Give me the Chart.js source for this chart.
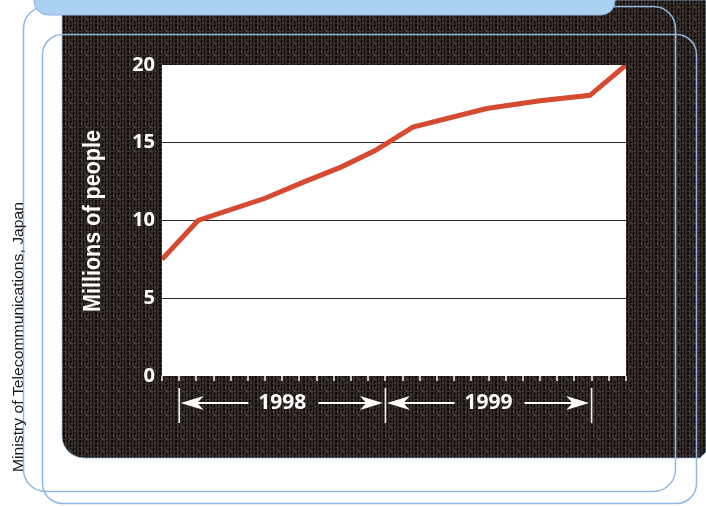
<!DOCTYPE html>
<html>
<head>
<meta charset="utf-8">
<script src="https://cdn.jsdelivr.net/npm/chart.js@4"></script>
<style>
  html, body { margin: 0; padding: 0; background: #fff; }
  canvas { display: block; }
</style>
</head>
<body>
<canvas id="chart" width="706" height="506"></canvas>
<script>
// Internet users in Japan, millions; x = months counted from December 1997
const months = [0, 2.1, 6, 8.3, 10.45, 12.4, 14.6, 18.9, 22, 24.9, 27];
const users = [7.5, 10.0, 11.43, 12.5, 13.45, 14.5, 16.0, 17.2, 17.7, 18.05, 20.0];

// Year spans along the time axis (month index of each January)
const yearLabels = ['1998', '1999'];
const yearBounds = [1, 13, 25];

const yTicks = [0, 5, 10, 15, 20];
const yTitle = 'Millions of people';
const sourceNote = 'Ministry of Telecommunications, Japan';

const LINE_RED = '#d64a31';
const OUTLINE_BLUE = '#8fb9e4';

function roundRectPath(ctx, x, y, w, h, r) {
  ctx.beginPath();
  ctx.moveTo(x + r, y);
  ctx.lineTo(x + w - r, y);
  ctx.arcTo(x + w, y, x + w, y + r, r);
  ctx.lineTo(x + w, y + h - r);
  ctx.arcTo(x + w, y + h, x + w - r, y + h, r);
  ctx.lineTo(x + r, y + h);
  ctx.arcTo(x, y + h, x, y + h - r, r);
  ctx.lineTo(x, y + r);
  ctx.arcTo(x, y, x + r, y, r);
  ctx.closePath();
}

// Grainy dark fill with vertical streaks
function darkTexture(ctx) {
  const c = document.createElement('canvas');
  c.width = 16; c.height = 12;
  const g = c.getContext('2d');
  g.fillStyle = '#3a302b';
  g.fillRect(0, 0, 16, 12);
  g.fillStyle = '#0c0a09';
  for (let x = 0; x < 16; x++) {
    for (let y = 0; y < 12; y++) {
      if ((x % 3 === 0 && y % 4 !== 3) || ((x * 7 + y * 5) % 9 === 0)) g.fillRect(x, y, 1, 1);
    }
  }
  g.fillStyle = '#4e4540';
  for (let x = 1; x < 16; x += 5) g.fillRect(x, (x * 3) % 12, 1, 2);
  return ctx.createPattern(c, 'repeat');
}

const backdrop = {
  id: 'backdrop',
  beforeDraw(chart) {
    const ctx = chart.ctx;
    const a = chart.chartArea;
    ctx.save();
    ctx.fillStyle = '#ffffff';
    ctx.fillRect(0, 0, chart.width, chart.height);

    // dark panel, rounded at the lower left
    ctx.beginPath();
    ctx.moveTo(62, 0);
    ctx.lineTo(706, 0);
    ctx.lineTo(706, 452);
    ctx.lineTo(700, 458);
    ctx.lineTo(84, 458);
    ctx.arcTo(62, 458, 62, 436, 22);
    ctx.closePath();
    ctx.fillStyle = darkTexture(ctx);
    ctx.fill();
    ctx.strokeStyle = 'rgba(150,190,230,0.7)';
    ctx.lineWidth = 1;
    ctx.stroke();

    // two thin blue rounded frames
    ctx.strokeStyle = OUTLINE_BLUE;
    ctx.lineWidth = 1.5;
    roundRectPath(ctx, 23.5, 6.5, 652, 485, 22);
    ctx.stroke();
    roundRectPath(ctx, 42.5, 34.5, 654, 469, 20);
    ctx.stroke();

    // light blue heading tab at the top
    ctx.beginPath();
    ctx.moveTo(34, -4);
    ctx.lineTo(615, -4);
    ctx.lineTo(615, 1);
    ctx.arcTo(615, 15, 601, 15, 14);
    ctx.lineTo(50, 15);
    ctx.arcTo(34, 15, 34, 1, 14);
    ctx.closePath();
    ctx.fillStyle = '#aad1f1';
    ctx.fill();
    ctx.strokeStyle = '#86b3de';
    ctx.lineWidth = 1;
    ctx.stroke();

    // white plotting field
    ctx.fillStyle = '#ffffff';
    ctx.fillRect(a.left, a.top, a.right - a.left, a.bottom - a.top);
    ctx.restore();
  }
};

function drawArrow(ctx, tipX, tailX, y) {
  const dir = Math.sign(tailX - tipX);
  ctx.beginPath();
  ctx.moveTo(tipX + dir * 14, y);
  ctx.lineTo(tailX, y);
  ctx.stroke();
  ctx.beginPath();
  ctx.moveTo(tipX, y);
  ctx.lineTo(tipX + dir * 23, y - 7);
  ctx.lineTo(tipX + dir * 16.5, y);
  ctx.lineTo(tipX + dir * 23, y + 7);
  ctx.closePath();
  ctx.fill();
}

const annotations = {
  id: 'annotations',
  afterDraw(chart) {
    const ctx = chart.ctx;
    const xs = chart.scales.x;
    ctx.save();

    // year brackets with arrows
    ctx.strokeStyle = '#f2f2f2';
    ctx.fillStyle = '#ffffff';
    ctx.lineWidth = 1.6;
    const bx = yearBounds.map(v => xs.getPixelForValue(v));
    bx.forEach(x => {
      ctx.beginPath();
      ctx.moveTo(x, 388);
      ctx.lineTo(x, 423);
      ctx.stroke();
    });
    const yArrow = 403;
    ctx.font = 'bold 21px "Open Sans", "DejaVu Sans", sans-serif';
    ctx.textAlign = 'center';
    ctx.textBaseline = 'middle';
    yearLabels.forEach((lab, i) => {
      const x0 = bx[i], x1 = bx[i + 1];
      const mid = (x0 + x1) / 2;
      const w = ctx.measureText(lab).width;
      ctx.fillStyle = '#ffffff';
      ctx.fillText(lab, mid, yArrow);
      ctx.lineWidth = 2;
      ctx.strokeStyle = '#ffffff';
      drawArrow(ctx, x0 + 1.5, mid - w / 2 - 10, yArrow);
      drawArrow(ctx, x1 - 2.5, mid + w / 2 + 12, yArrow);
    });

    // vertical axis title
    ctx.save();
    ctx.translate(99.5, 221);
    ctx.rotate(-Math.PI / 2);
    ctx.font = 'bold 23px "Liberation Sans", Arial, sans-serif';
    ctx.textAlign = 'center';
    ctx.textBaseline = 'alphabetic';
    const tw = ctx.measureText(yTitle).width;
    ctx.scale(182 / tw, 1);
    ctx.fillStyle = '#ffffff';
    ctx.fillText(yTitle, 0, 0);
    ctx.restore();

    // source note along the left margin
    ctx.save();
    ctx.translate(23, 337);
    ctx.rotate(-Math.PI / 2);
    ctx.font = '14px "Liberation Sans", Arial, sans-serif';
    ctx.textAlign = 'center';
    ctx.textBaseline = 'alphabetic';
    const sw = ctx.measureText(sourceNote).width;
    ctx.scale(270 / sw, 1);
    ctx.fillStyle = '#1a1a1a';
    ctx.fillText(sourceNote, 0, 0);
    ctx.restore();

    ctx.restore();
  }
};

new Chart(document.getElementById('chart'), {
  type: 'line',
  data: {
    datasets: [{
      data: months.map((m, i) => ({ x: m, y: users[i] })),
      borderColor: LINE_RED,
      borderWidth: 5,
      pointRadius: 0,
      tension: 0,
      fill: false,
      clip: 0
    }]
  },
  options: {
    responsive: false,
    animation: false,
    devicePixelRatio: 1,
    layout: { padding: { left: 0, top: 65, right: 80, bottom: 0 } },
    plugins: { legend: { display: false }, tooltip: { enabled: false } },
    scales: {
      x: {
        type: 'linear',
        min: months[0],
        max: months[months.length - 1],
        afterBuildTicks(scale) {
          const t = [];
          for (let v = scale.min; v <= scale.max; v++) t.push({ value: v });
          scale.ticks = t;
        },
        afterFit(scale) { scale.height = 130; },
        border: { display: false },
        grid: {
          drawOnChartArea: false,
          drawTicks: true,
          tickLength: 5,
          color: '#c4c2c0',
          lineWidth: 2
        },
        ticks: { display: false }
      },
      y: {
        type: 'linear',
        min: yTicks[0],
        max: yTicks[yTicks.length - 1],
        afterBuildTicks(scale) { scale.ticks = yTicks.map(v => ({ value: v })); },
        afterFit(scale) { scale.width = 162; },
        border: { display: false },
        grid: {
          drawTicks: false,
          lineWidth: 1,
          color: ctx => (ctx.tick && (ctx.tick.value === yTicks[0] || ctx.tick.value === yTicks[yTicks.length - 1])) ? 'rgba(0,0,0,0)' : '#2b2b2b'
        },
        ticks: {
          padding: 7,
          color: '#ffffff',
          font: { family: '"Open Sans", "DejaVu Sans", sans-serif', size: 20, weight: 'bold' }
        }
      }
    }
  },
  plugins: [backdrop, annotations]
});
</script>
</body>
</html>
